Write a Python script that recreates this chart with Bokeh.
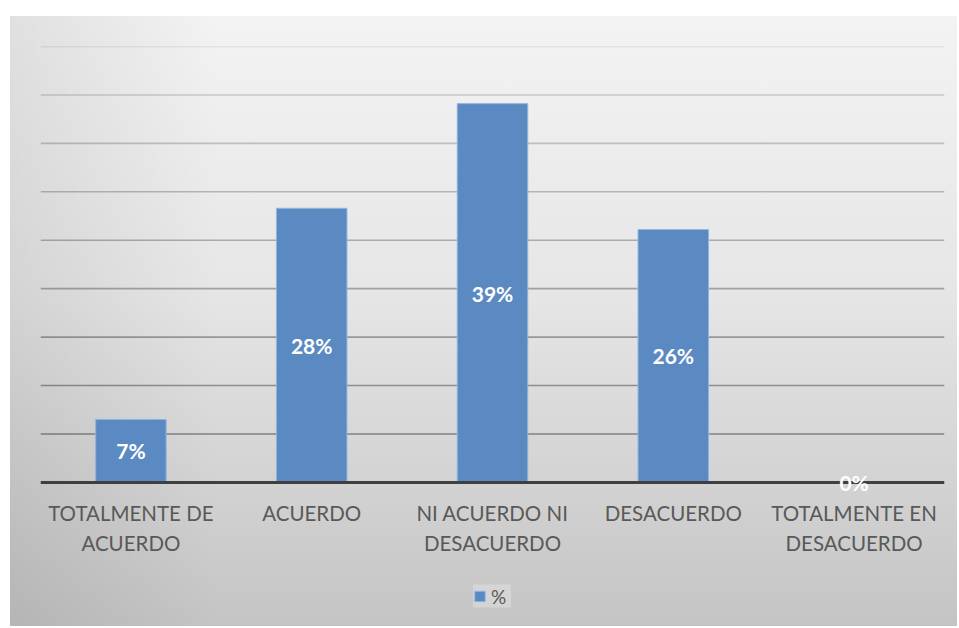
from bokeh.plotting import figure
from bokeh.layouts import column
from bokeh.models import ColumnDataSource, Range1d, FactorRange, LabelSet, Legend, LegendItem, Span
from bokeh.core.properties import value
from bokeh.embed import file_html
from bokeh.resources import INLINE

# ---- data ----
categories = ["TOTALMENTE DE\nACUERDO", "ACUERDO", "NI ACUERDO NI\nDESACUERDO",
              "DESACUERDO", "TOTALMENTE EN\nDESACUERDO"]
percent = [6.5, 28.3, 39.1, 26.1, 0.0]
value_labels = ["7%", "28%", "39%", "26%", "0%"]
series_name = "%"
grid_values = [5, 10, 15, 20, 25, 30, 35, 40, 45]
y_min, y_max = -1.25, 45

BAR_FILL = "#5b8ac3"
BAR_LINE = "#8fb5e0"
TEXT_GREY = "#595959"

src = ColumnDataSource(dict(cat=categories, pct=percent,
                            mid=[v / 2 for v in percent], lab=value_labels))

p = figure(x_range=categories, y_range=Range1d(y_min, y_max),
           width=957, height=574, output_backend="svg", toolbar_location=None,
           min_border_left=40, min_border_right=13, min_border_top=46,
           min_border_bottom=80)
p.border_fill_color = None
p.background_fill_color = None
p.outline_line_color = None

# gridlines (darker toward the bottom, as in the reference)
n = len(grid_values)
for i, g in enumerate(grid_values):
    a = 0.40 - 0.27 * (i / (n - 1))
    p.add_layout(Span(location=g, dimension="width", line_color="black",
                      line_alpha=a, line_width=1.6, level="underlay"))

r = p.vbar(x="cat", top="pct", width=0.39, source=src,
           fill_color=BAR_FILL, line_color=BAR_LINE, line_width=1)

# category axis baseline at zero, drawn over the bar feet
p.add_layout(Span(location=0, dimension="width", line_color="#3f3f3f",
                  line_width=3, level="guide"))

labels = LabelSet(x="cat", y="mid", text="lab", source=src,
                  text_color="white", text_font=value("Lato"),
                  text_font_style="bold", text_font_size="21px",
                  text_align="center", text_baseline="middle")
p.add_layout(labels)

p.xgrid.visible = False
p.ygrid.visible = False
p.yaxis.visible = False

ax = p.xaxis[0]
ax.axis_line_color = None
ax.major_tick_line_color = None
ax.minor_tick_line_color = None
ax.major_label_text_font = "Lato"
ax.major_label_text_font_size = "20.5px"
ax.major_label_text_color = TEXT_GREY
ax.major_label_text_line_height = 1.27
ax.major_label_standoff = 0

# ---- legend strip below the chart (same series as a hidden renderer; only its key shows) ----
pl = figure(width=957, height=52, x_range=FactorRange(*categories), y_range=Range1d(100, 101),
            output_backend="svg", toolbar_location=None,
            min_border_left=28, min_border_right=0, min_border_top=0, min_border_bottom=9)
pl.border_fill_color = None
pl.background_fill_color = None
pl.outline_line_color = None
pl.axis.visible = False
pl.grid.visible = False
key = pl.vbar(x="cat", top="pct", width=0.39, source=src,
              fill_color=BAR_FILL, line_color=BAR_LINE, line_width=1)
key.visible = False

legend = Legend(items=[LegendItem(label=series_name, renderers=[key])],
                orientation="horizontal", location="center", click_policy="none")
legend.label_text_font = "Lato"
legend.label_text_font_size = "19px"
legend.label_text_color = TEXT_GREY
legend.glyph_width = 13
legend.glyph_height = 13
legend.label_standoff = 5
legend.padding = 10
legend.margin = 0
legend.background_fill_color = "white"
legend.background_fill_alpha = 0.25
legend.border_line_color = None
pl.add_layout(legend)

layout = column(p, pl, spacing=0)
layout.styles = {
    "background-color": "white",
    "background-image": "linear-gradient(to right, rgba(0,0,0,0.08) 0%, rgba(0,0,0,0) 22%), "
                        "linear-gradient(to bottom, #f3f3f3 0%, #e6e6e6 45%, #c4c4c4 100%)",
    "background-position": "10px 16px",
    "background-size": "calc(100% - 10px) calc(100% - 16px)",
    "background-repeat": "no-repeat",
}

open("out.html", "w").write(file_html(layout, INLINE))
